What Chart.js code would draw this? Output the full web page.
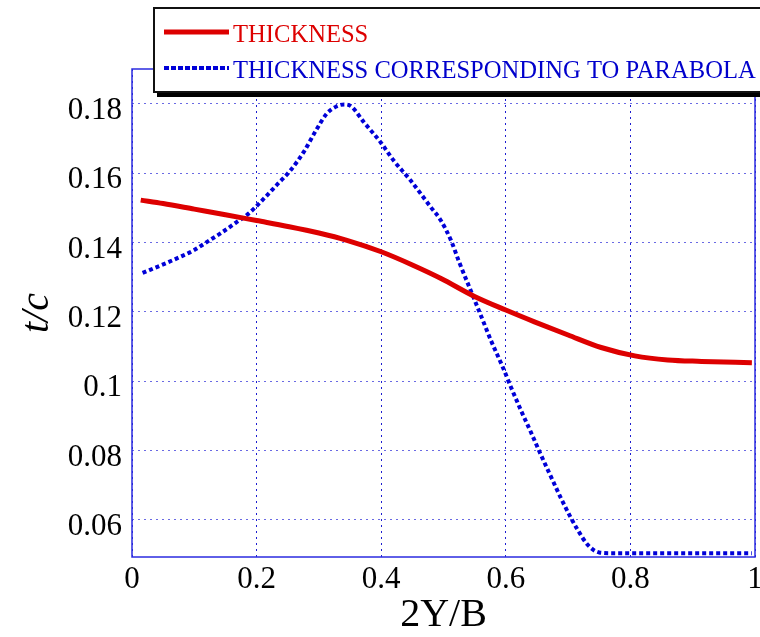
<!DOCTYPE html>
<html>
<head>
<meta charset="utf-8">
<script src="https://cdn.jsdelivr.net/npm/chart.js@4/dist/chart.umd.min.js"></script>
<style>
  html, body { margin: 0; padding: 0; background: #fff; }
  #wrap { width: 760px; height: 637px; position: relative; }
</style>
</head>
<body>
<div id="wrap"><canvas id="chart"></canvas></div>
<script>
var thicknessX = [0.014, 0.05, 0.1, 0.15, 0.2, 0.25, 0.3, 0.345, 0.4, 0.45, 0.496, 0.549, 0.6, 0.646, 0.7, 0.753, 0.807, 0.86, 0.914, 0.995];
var thicknessY = [0.1522, 0.1512, 0.1496, 0.148, 0.1463, 0.1446, 0.1427, 0.1406, 0.1373, 0.1335, 0.1296, 0.1245, 0.1205, 0.1171, 0.1133, 0.1097, 0.1073, 0.1061, 0.1057, 0.1053];

var parabolaX = [0.017, 0.053, 0.077, 0.099, 0.12, 0.142, 0.166, 0.187, 0.2115, 0.233, 0.2545, 0.276, 0.296, 0.313, 0.328, 0.341, 0.352, 0.372, 0.399, 0.42, 0.447, 0.4795, 0.4955, 0.512, 0.525, 0.549, 0.563, 0.576, 0.595, 0.608, 0.624, 0.64, 0.6565, 0.6726, 0.6887, 0.705, 0.7155, 0.7316, 0.75, 0.77, 0.995];
var parabolaY = [0.1312, 0.1339, 0.1358, 0.1377, 0.1401, 0.1426, 0.1456, 0.1483, 0.1526, 0.1567, 0.1608, 0.1662, 0.1725, 0.1772, 0.1792, 0.1798, 0.1792, 0.1747, 0.1689, 0.1636, 0.1579, 0.1502, 0.1464, 0.1406, 0.1344, 0.1238, 0.1176, 0.1118, 0.1041, 0.0984, 0.0917, 0.0854, 0.0787, 0.0724, 0.0662, 0.0604, 0.0571, 0.0528, 0.0506, 0.0504, 0.0504];

var xTicks = [0, 0.2, 0.4, 0.6, 0.8, 1];
var yTicks = [0.06, 0.08, 0.1, 0.12, 0.14, 0.16, 0.18];

var serif = '"Liberation Serif", "Times New Roman", serif';

function pts(xs, ys) {
    return xs.map((x, i) => ({ x: x, y: ys[i] }));
}

// box round the plot
var frame = {
    id: 'frame',
    beforeDatasetsDraw(chart) {
        var a = chart.chartArea, ctx = chart.ctx;
        ctx.save();
        ctx.lineWidth = 1.5;
        ctx.strokeStyle = '#2b2be0';
        ctx.strokeRect(a.left, a.top, a.right - a.left, a.bottom - a.top);
        ctx.restore();
    }
};

// matlab style legend with shadow
var boxLegend = {
    id: 'boxLegend',
    afterDraw(chart) {
        var ctx = chart.ctx;
        var x0 = 153, y0 = 7, w = 640, h = 85;
        ctx.save();
        ctx.fillStyle = '#000';
        ctx.fillRect(x0 + 4, y0 + 4, w, h + 1);
        ctx.fillStyle = '#fff';
        ctx.fillRect(x0, y0, w, h);
        ctx.lineWidth = 2;
        ctx.strokeStyle = '#111';
        ctx.strokeRect(x0 + 1, y0 + 1, w, h - 1);

        var rows = [32, 68];
        chart.data.datasets.forEach(function(ds, i) {
            var yy = rows[i];
            ctx.beginPath();
            ctx.strokeStyle = ds.borderColor;
            ctx.lineWidth = ds.borderWidth;
            ctx.setLineDash(i === 0 ? [] : [5, 2]);
            ctx.moveTo(164, yy);
            ctx.lineTo(229, yy);
            ctx.stroke();
            ctx.setLineDash([]);
            ctx.fillStyle = ds.textColor;
            ctx.font = '24.6px ' + serif;
            ctx.textBaseline = 'alphabetic';
            ctx.textAlign = 'left';
            ctx.fillText(ds.label, 233, yy + 10);
        });
        ctx.restore();
    }
};

var ctx = document.getElementById('chart').getContext('2d');

var chart = new Chart(ctx, {
    type: 'line',
    data: {
        datasets: [
            {
                label: 'THICKNESS',
                data: pts(thicknessX, thicknessY),
                borderColor: '#dd0000',
                textColor: '#dd0000',
                borderWidth: 5,
                pointRadius: 0,
                cubicInterpolationMode: 'monotone',
                fill: false
            },
            {
                label: 'THICKNESS CORRESPONDING TO PARABOLA',
                data: pts(parabolaX, parabolaY),
                borderColor: '#0000d8',
                textColor: '#0000cc',
                borderWidth: 4,
                borderDash: [4, 3],
                pointRadius: 0,
                cubicInterpolationMode: 'monotone',
                fill: false
            }
        ]
    },
    options: {
        responsive: true,
        maintainAspectRatio: false,
        animation: false,
        layout: { padding: { top: 69, right: 5, left: 0, bottom: 0 } },
        plugins: {
            legend: { display: false },
            tooltip: { enabled: false }
        },
        scales: {
            x: {
                type: 'linear',
                min: 0,
                max: 1,
                afterFit: s => { s.height = 80; s.paddingLeft = 0; s.paddingRight = 0; },
                afterBuildTicks: s => { s.ticks = xTicks.map(v => ({ value: v })); },
                grid: { color: '#1c1cd0', lineWidth: 1, drawTicks: false },
                border: { display: false, dash: [2, 4] },
                ticks: {
                    color: '#000',
                    font: { family: serif, size: 31 },
                    padding: 4,
                    maxRotation: 0,
                    autoSkip: false,
                    callback: v => String(v)
                },
                title: {
                    display: true,
                    text: '2Y/B',
                    color: '#000',
                    font: { family: serif, size: 40, lineHeight: 1 },
                    padding: { top: 0, bottom: 2 }
                }
            },
            y: {
                type: 'linear',
                min: 0.0493,
                max: 0.19,
                afterFit: s => { s.width = 132; },
                afterBuildTicks: s => { s.ticks = yTicks.map(v => ({ value: v })); },
                grid: { color: '#6a6ae4', lineWidth: 1, drawTicks: false },
                border: { display: false, dash: [2, 4] },
                ticks: {
                    color: '#000',
                    font: { family: serif, size: 31 },
                    padding: 10,
                    labelOffset: 7,
                    callback: v => String(v)
                },
                title: {
                    display: true,
                    text: 't/c',
                    color: '#000',
                    font: { family: serif, size: 40, style: 'italic', lineHeight: 1 },
                    padding: { top: 17, bottom: 0 }
                }
            }
        }
    },
    plugins: [frame, boxLegend]
});
</script>
</body>
</html>
